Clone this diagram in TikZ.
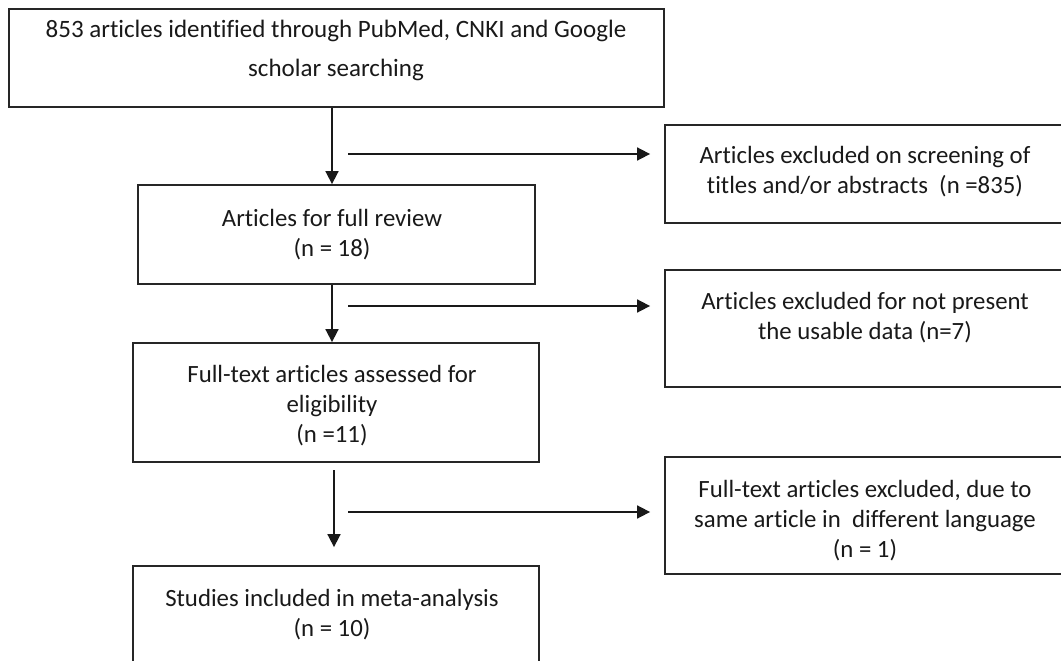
\documentclass[tikz,border=0pt]{standalone}
\usepackage{fontspec}
\setmainfont[Ligatures={NoCommon}]{Carlito}
\usetikzlibrary{arrows.meta}
\begin{document}
\begin{tikzpicture}[x=1pt,y=-1pt,
  box/.style={draw=black!85,line width=1.8pt,inner sep=0pt,rectangle},
  txt/.style={align=center,inner sep=0pt,text=black!90,font=\fontsize{24.8}{30}\selectfont},
  arr/.style={draw=black!90,line width=1.7pt,-{Triangle[width=13pt,length=13pt]}}]
\useasboundingbox (0,0) rectangle (1061,661);
\clip (0,0) rectangle (1061,661);
% boxes
\node[box,minimum width=655pt,minimum height=98pt] (top) at (336.5,58) {};
\node[box,minimum width=397pt,minimum height=99pt] (b2) at (336.5,234.5) {};
\node[box,minimum width=406pt,minimum height=119pt] (b3) at (336,402.5) {};
\node[box,minimum width=406pt,minimum height=134pt] (b4) at (336,633) {};
\node[box,minimum width=400pt,minimum height=98pt] (r1) at (865,174) {};
\node[box,minimum width=400pt,minimum height=117pt] (r2) at (865,328.5) {};
\node[box,minimum width=400pt,minimum height=117pt] (r3) at (865,515.5) {};
% texts (anchored at the baseline of the last line)
\node[txt,anchor=base,font=\fontsize{25}{39}\selectfont] (ttop) at (336,77) {853 articles identified through PubMed, CNKI and Google\\scholar searching};
\node[txt,anchor=base] (tb2) at (332,256) {Articles for full review\\(n = 18)};
\node[txt,anchor=base] (tb3) at (332,442) {Full-text articles assessed for\\eligibility\\(n =11)};
\node[txt,anchor=base] (tb4) at (332,636) {Studies included in meta-analysis\\(n = 10)};
\node[txt,anchor=base] (tr1) at (865,193) {Articles excluded on screening of\\titles and/or abstracts~~(n =835)};
\node[txt,anchor=base] (tr2) at (865,339) {Articles excluded for not present\\the usable data (n=7)};
\node[txt,anchor=base] (tr3) at (865,557) {Full-text articles excluded, due to\\same article in~ different language\\(n = 1)};
% connectors
\coordinate (ax) at (332,0);
\coordinate (ax3) at (334,470);
\coordinate (h1) at (348,154);
\coordinate (h2) at (348,306);
\coordinate (h3) at (348,512);
\draw[arr] (top.south -| ax) -- (b2.north -| ax);
\draw[arr] (b2.south -| ax) -- (b3.north -| ax);
\draw[arr,shorten >=18pt] (ax3) -- (ax3 |- b4.north);
\draw[arr,shorten >=14pt] (h1) -- (h1 -| r1.west);
\draw[arr,shorten >=14pt] (h2) -- (h2 -| r2.west);
\draw[arr,shorten >=14pt] (h3) -- (h3 -| r3.west);
\end{tikzpicture}
\end{document}
